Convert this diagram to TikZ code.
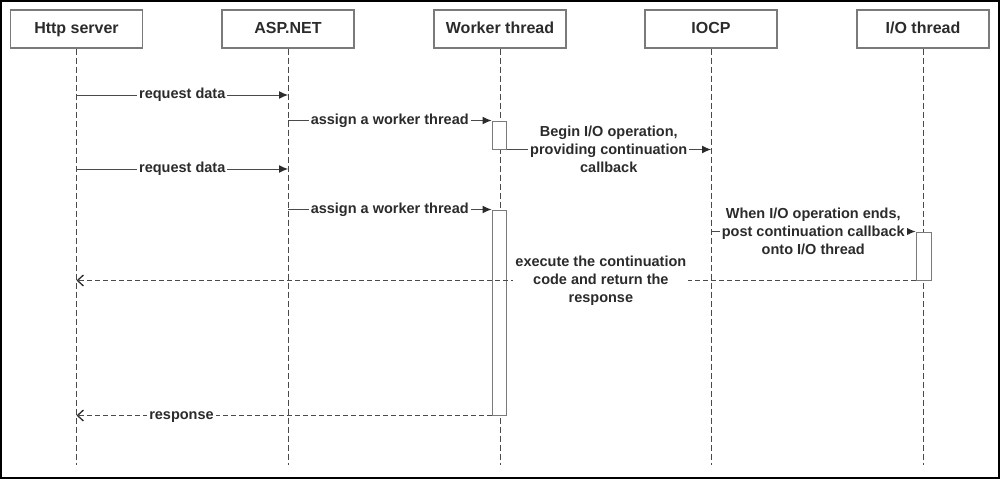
\documentclass[tikz,border=0pt]{standalone}
\usepackage{fontspec}
\setmainfont{Liberation Sans}
\usepackage{xcolor}
\usepackage{tikz}
\usetikzlibrary{arrows.meta}
\usetikzlibrary{calc}

\definecolor{linegray}{HTML}{4A4A4A}
\definecolor{boxgray}{HTML}{7A7A7A}
\definecolor{textgray}{HTML}{2B2B2B}

\begin{document}
\begin{tikzpicture}[x = 1pt, y = -1pt,
		>={Latex[length = 9pt, width = 8pt, color = textgray]},
		lifeline/.style = {draw = linegray, line width = 0.9pt, dash pattern = on 6pt off 3pt},
		msg/.style = {draw = linegray, line width = 1pt, ->},
		reply/.style = {draw = linegray, line width = 1pt, dash pattern = on 5pt off 3pt, -{Straight Barb[length = 6pt, width = 11pt, color = textgray, line width = 1.3pt]}},
		act/.style = {rectangle, draw = boxgray, fill = white, line width = 1pt, inner sep = 0pt, minimum width = 14pt},
		lbl/.style = {fill = white, text = textgray, align = center, inner sep = 2pt, font = \fontsize{14.5}{18}\selectfont\bfseries},
		oneline/.style = {text height = 10.5pt, text depth = 3pt}]
		
		\useasboundingbox (0, 0) rectangle (1000, 479);
		\draw [line width = 2pt] (1, 1) rectangle (999, 478);
		
		\begin{scope}[every node/.style={rectangle, draw = boxgray, line width = 1.2pt, minimum width = 132pt, minimum height = 38pt, text height = 12pt, text depth = 3.5pt, text = textgray, font = \fontsize{16}{19}\selectfont\bfseries}]
		\node (http) at (76.5, 29) {Http server};
		\node (asp) at (288, 29) {ASP.NET};
		\node (worker) at (500, 29) {Worker thread};
		\node (iocp) at (711, 29) {IOCP};
		\node (io) at (923, 29) {I/O thread};
		\end{scope}
		
		% rows without an activation box
		\coordinate (bottom) at (0, 465);
		\coordinate (r1) at (0, 95);
		\coordinate (r4) at (0, 169);
		
		\path [lifeline] (http) -- (http |- bottom)
		(asp) -- (asp |- bottom)
		(worker) -- (worker |- bottom)
		(iocp) -- (iocp |- bottom)
		(io) -- (io |- bottom);
		
		\node (act1) [act, minimum height = 28pt] at (499, 135) {};
		\node (act2) [act, minimum height = 205pt] at (499, 312.5) {};
		\node (act3) [act, minimum width = 15pt, minimum height = 48pt] at (923.5, 256) {};
		
		\draw [msg] (http |- r1) -- node [lbl, oneline] {request data} (asp |- r1);
		\draw [msg] (asp |- act1.north) -- node [lbl, oneline] {assign a worker thread} (act1.north west);
		\draw [msg] (act1.south east) -- node [lbl] {Begin I/O operation,\\ providing continuation\\ callback} (iocp |- act1.south);
		\draw [msg] (http |- r4) -- node [lbl, oneline] {request data} (asp |- r4);
		\draw [msg] (asp |- act2.north) -- node [lbl, oneline] {assign a worker thread} (act2.north west);
		\draw [msg] (iocp |- act3.north) -- node [lbl] {When I/O operation ends,\\ post continuation callback\\ onto I/O thread} (act3.north west);
		
		\draw [reply] (act3.south west) -- node [lbl, pos = 0.375] {execute the continuation\\ code and return the\\ response} (http |- act3.south);
		\draw [reply] (act2.south west) -- node [lbl, oneline, pos = 0.747] {response} (http |- act2.south);
		
		\end{tikzpicture}
\end{document}
